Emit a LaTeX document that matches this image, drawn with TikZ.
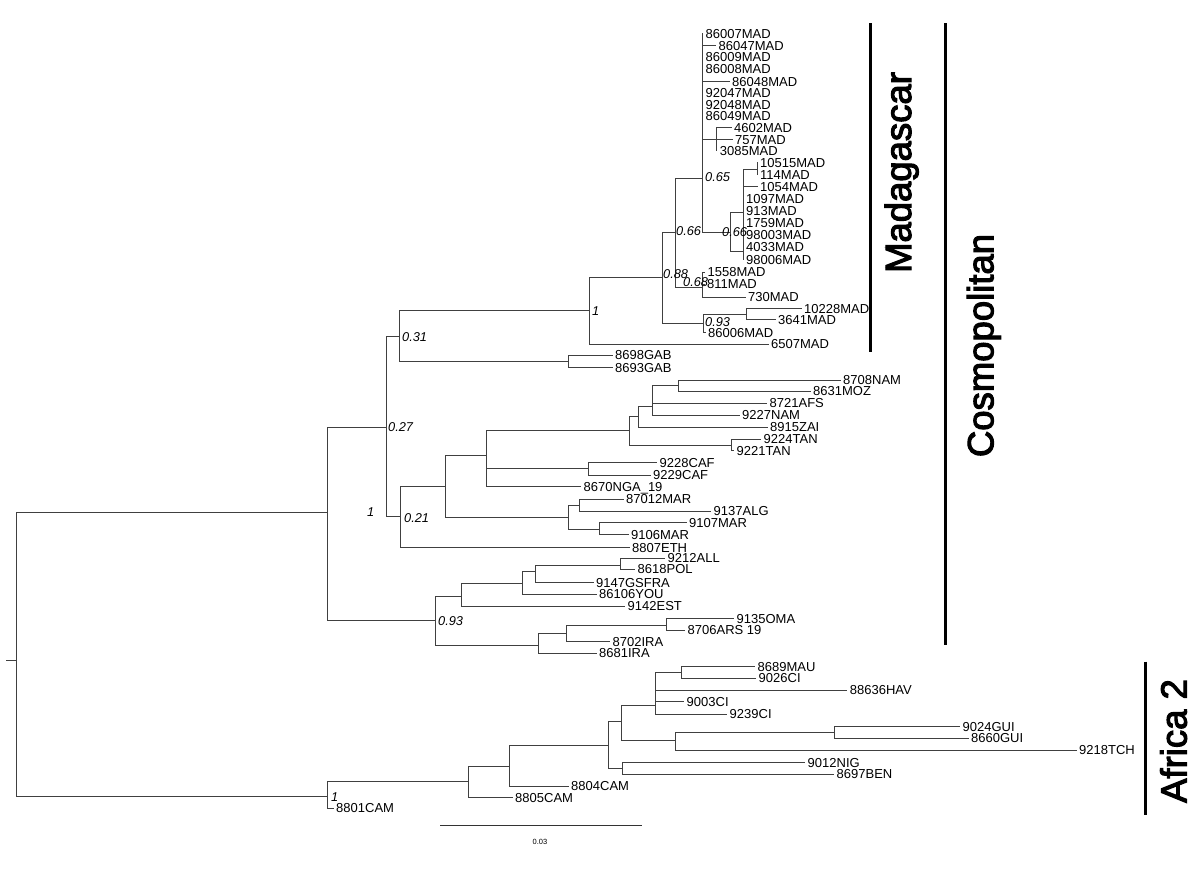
\documentclass[tikz,border=0pt]{standalone}
\usepackage{fontspec}
\setmainfont{Liberation Sans}
\newfontfamily\cladefont[FakeBold=3]{Liberation Sans}
\newcommand{\tnode}[4]{\coordinate (#2) at (#3,#4); \draw[br] (#1 |- #2) -- (#2);}
\newcommand{\tleaf}[5]{\node[leaf] (#2) at (#3,#4) {#5}; \draw[br] (#1 |- #2.west) -- (#2.west);}
\newcommand{\vsp}[3]{\draw[br] (#1 |- #2) -- (#1 |- #3);}
\begin{document}
\begin{tikzpicture}[x=1pt,y=-1pt,
  br/.style={draw=black!75, line width=1pt, line cap=rect},
  leaf/.style={anchor=west, inner xsep=3pt, inner ysep=0pt, font=\fontsize{13}{14}\selectfont, text height=9.3pt, text depth=0pt},
  supp/.style={anchor=west, inner sep=0pt, font=\fontsize{12.8}{14}\selectfont\itshape, text height=9.2pt, text depth=0pt},
  clade/.style={rotate=90, anchor=base, inner sep=0pt, font=\cladefont\fontsize{36.5}{40}\selectfont},
  cbar/.style={draw=black, line width=2.8pt},
]
\useasboundingbox (0,0) rectangle (1200,872);
\fill[white] (0,0) rectangle (1200,872);
% root
\coordinate (Rt) at (16,660);
\coordinate (Rs) at (6,660);
\draw[br] (Rs) -- (Rt);
\tnode{Rt}{N}{327.5}{512}
\tnode{Rt}{A}{327.5}{796}
% cosmopolitan
\tnode{N}{T}{386}{427}
\tnode{N}{V}{435}{620}
\tnode{T}{S}{399}{336}
\tnode{T}{U}{400.7}{516.5}
\tnode{S}{M}{589}{310.5}
\tnode{S}{GB}{568}{361}
\tleaf{GB}{l8698}{612}{355}{8698GAB}
\tleaf{GB}{l8693}{612}{367.5}{8693GAB}
\tnode{M}{O}{662}{277}
\tleaf{M}{l6507}{768}{344}{6507MAD}
\tnode{O}{D}{675}{232}
\tnode{O}{MB}{703}{323}
\tnode{MB}{I}{746}{314}
\tleaf{MB}{l86006}{705}{332.5}{86006MAD}
\tleaf{I}{l10228}{801}{308.5}{10228MAD}
\tleaf{I}{l3641}{775}{319.5}{3641MAD}
\tnode{D}{C}{702.5}{179}
\tnode{D}{F}{702.5}{287}
\tleaf{F}{l1558}{704.5}{272}{1558MAD}
\tleaf{F}{l811}{704}{284}{811MAD}
\tleaf{F}{l730}{745}{297}{730MAD}
\tleaf{C}{l86007}{702.5}{34}{86007MAD}
\tleaf{C}{l86047}{715.5}{45.5}{86047MAD}
\tleaf{C}{l86009}{702.5}{57}{86009MAD}
\tleaf{C}{l86008}{702.5}{69}{86008MAD}
\tleaf{C}{l86048}{729}{81.5}{86048MAD}
\tleaf{C}{l92047}{702.5}{93}{92047MAD}
\tleaf{C}{l92048}{702.5}{104.5}{92048MAD}
\tleaf{C}{l86049}{702.5}{116}{86049MAD}
\tnode{C}{G}{716.7}{140}
\tleaf{G}{l4602}{731}{128}{4602MAD}
\tleaf{G}{l757}{732}{139.5}{757MAD}
\tleaf{G}{l3085}{716.7}{151}{3085MAD}
\tnode{C}{E}{730}{232}
\tnode{E}{H1}{743}{212}
\tnode{E}{H2}{743}{251}
\tnode{H1}{NA}{757}{170}
\tleaf{NA}{l10515}{757}{163}{10515MAD}
\tleaf{NA}{l114}{757}{175}{114MAD}
\tleaf{H1}{l1054}{757}{186.5}{1054MAD}
\tleaf{H1}{l1097}{743}{198.5}{1097MAD}
\tleaf{H2}{l913}{743}{211}{913MAD}
\tleaf{H2}{l1759}{743}{223}{1759MAD}
\tleaf{H2}{l98003}{743}{235}{98003MAD}
\tleaf{H2}{l4033}{743}{247}{4033MAD}
\tleaf{H2}{l98006}{743}{259.5}{98006MAD}
% U subtree
\tnode{U}{J}{445}{486.5}
\tleaf{U}{l8807}{629}{547.5}{8807ETH}
\tnode{J}{L}{486.7}{455}
\tnode{J}{MR}{568.3}{517.3}
\tnode{L}{K4}{629.3}{430.7}
\tnode{L}{CF}{588.3}{468.5}
\tleaf{L}{l8670}{580.5}{486.7}{8670NGA\_19}
\tnode{K4}{K3}{638.3}{416.7}
\tnode{K4}{TN}{731.7}{445}
\tnode{K3}{K2}{652.7}{406}
\tleaf{K3}{l8915}{767}{427.3}{8915ZAI}
\tnode{K2}{K1}{678.3}{385.7}
\tleaf{K2}{l8721}{766.5}{403.3}{8721AFS}
\tleaf{K2}{l9227}{739}{415}{9227NAM}
\tleaf{K1}{l8708}{840}{380}{8708NAM}
\tleaf{K1}{l8631}{810}{391}{8631MOZ}
\tleaf{TN}{l9224}{760.5}{439}{9224TAN}
\tleaf{TN}{l9221}{733.5}{450.7}{9221TAN}
\tleaf{CF}{l9228}{656.5}{462.7}{9228CAF}
\tleaf{CF}{l9229}{650}{475}{9229CAF}
\tnode{MR}{M2}{579}{505}
\tnode{MR}{M3}{599}{529}
\tleaf{M2}{l87012}{623}{499.3}{87012MAR}
\tleaf{M2}{l9137}{710.5}{511}{9137ALG}
\tleaf{M3}{l9107}{686}{522.7}{9107MAR}
\tleaf{M3}{l9106}{628}{534.5}{9106MAR}
% V subtree
\tnode{V}{P1}{461}{596.5}
\tnode{V}{Q1}{538.3}{645}
\tnode{P1}{P2}{522.7}{583.3}
\tleaf{P1}{l9142}{624.5}{606}{9142EST}
\tnode{P2}{P3}{535}{571.7}
\tleaf{P2}{l86106}{596}{594}{86106YOU}
\tnode{P3}{P4}{620.7}{565}
\tleaf{P3}{l9147}{593}{582.7}{9147GSFRA}
\tleaf{P4}{l9212}{664.5}{558.3}{9212ALL}
\tleaf{P4}{l8618}{634.5}{569.3}{8618POL}
\tnode{Q1}{Q2}{566}{633.3}
\tleaf{Q1}{l8681}{596}{653.3}{8681IRA}
\tnode{Q2}{Q3}{666.7}{625}
\tleaf{Q2}{l8702}{609.5}{641.7}{8702IRA}
\tleaf{Q3}{l9135}{733.5}{618.5}{9135OMA}
\tleaf{Q3}{l8706}{684.5}{630}{8706ARS 19}
% Africa 2
\tnode{A}{R1}{468.3}{781.7}
\tleaf{A}{l8801}{333}{808}{8801CAM}
\tnode{R1}{R2}{509.3}{766}
\tleaf{R1}{l8805}{512}{797.7}{8805CAM}
\tnode{R2}{R3}{608.3}{745.7}
\tleaf{R2}{l8804}{568}{786}{8804CAM}
\tnode{R3}{R4}{621.7}{721.7}
\tnode{R3}{R5}{622.7}{768.3}
\tnode{R4}{R6}{655}{705}
\tnode{R4}{R7}{675}{740.7}
\tnode{R6}{R9}{681.7}{672.7}
\tleaf{R6}{l88636}{846.7}{690}{88636HAV}
\tleaf{R6}{l9003}{683.5}{701.7}{9003CI}
\tleaf{R6}{l9239}{726.5}{714}{9239CI}
\tleaf{R9}{l8689}{754.5}{666.7}{8689MAU}
\tleaf{R9}{l9026}{755.5}{678.3}{9026CI}
\tnode{R7}{GU}{834}{732.7}
\tleaf{R7}{l9218}{1076}{750}{9218TCH}
\tleaf{GU}{l9024}{959.5}{726.7}{9024GUI}
\tleaf{GU}{l8660}{968}{738.3}{8660GUI}
\tleaf{R5}{l9012}{804.5}{762.7}{9012NIG}
\tleaf{R5}{l8697}{833.5}{774}{8697BEN}
% vertical spans of the internal nodes
\vsp{Rt}{N}{A}
\vsp{N}{T}{V}
\vsp{T}{S}{U}
\vsp{S}{M}{GB}
\vsp{GB}{l8698.west}{l8693.west}
\vsp{M}{O}{l6507.west}
\vsp{O}{D}{MB}
\vsp{MB}{I}{l86006.west}
\vsp{I}{l10228.west}{l3641.west}
\vsp{D}{C}{F}
\vsp{F}{l1558.west}{l730.west}
\vsp{C}{l86007.west}{E}
\vsp{G}{l4602.west}{l3085.west}
\vsp{E}{H1}{H2}
\vsp{H1}{NA}{H1}
\vsp{H2}{l913.west}{l98006.west}
\vsp{NA}{l10515.west}{l114.west}
\vsp{U}{J}{l8807.west}
\vsp{J}{L}{MR}
\vsp{L}{K4}{l8670.west}
\vsp{K4}{K3}{TN}
\vsp{K3}{K2}{l8915.west}
\vsp{K2}{K1}{l9227.west}
\vsp{K1}{l8708.west}{l8631.west}
\vsp{TN}{l9224.west}{l9221.west}
\vsp{CF}{l9228.west}{l9229.west}
\vsp{MR}{M2}{M3}
\vsp{M2}{l87012.west}{l9137.west}
\vsp{M3}{l9107.west}{l9106.west}
\vsp{V}{P1}{Q1}
\vsp{P1}{P2}{l9142.west}
\vsp{P2}{P3}{l86106.west}
\vsp{P3}{P4}{l9147.west}
\vsp{P4}{l9212.west}{l8618.west}
\vsp{Q1}{Q2}{l8681.west}
\vsp{Q2}{Q3}{l8702.west}
\vsp{Q3}{l9135.west}{l8706.west}
\vsp{A}{R1}{l8801.west}
\vsp{R1}{R2}{l8805.west}
\vsp{R2}{R3}{l8804.west}
\vsp{R3}{R4}{R5}
\vsp{R4}{R6}{R7}
\vsp{R6}{R9}{l9239.west}
\vsp{R9}{l8689.west}{l9026.west}
\vsp{R7}{GU}{l9218.west}
\vsp{GU}{l9024.west}{l8660.west}
\vsp{R5}{l9012.west}{l8697.west}
% support values
\node[supp] (s1) at (705,176.5) {0.65};
\node[supp] (s2) at (676,231) {0.66};
\node[supp] (s3) at (722,231.5) {0.66};
\node[supp] (s4) at (663,274) {0.88};
\node[supp] (s5) at (683,282) {0.68};
\node[supp] (s6) at (592,311) {1};
\node[supp] (s7) at (705,322) {0.93};
\node[supp] (s8) at (402,337) {0.31};
\node[supp] (s9) at (388,427) {0.27};
\node[supp] (s10) at (404,518) {0.21};
\node[supp] (s11) at (367,512) {1};
\node[supp] (s12) at (438,620.5) {0.93};
\node[supp] (s13) at (331,797) {1};
% scale bar
\coordinate (sb1) at (440,825);
\coordinate (sb2) at (641.7,825);
\draw[draw=black!80, line width=0.9pt] (sb1) -- (sb2);
\node[font=\fontsize{7.5}{9}\selectfont, inner sep=0pt] (sbl) at (540,841.5) {0.03};
% clade bars
\coordinate (mb1) at (870.7,23.3);
\coordinate (mb2) at (870.7,351.7);
\draw[cbar] (mb1) -- (mb2);
\node[clade] (madl) at (911,172.5) {Madagascar};
\coordinate (cb1) at (945.5,23.3);
\coordinate (cb2) at (945.5,645);
\draw[cbar] (cb1) -- (cb2);
\node[clade] (cosl) at (993.3,345.5) {Cosmopolitan};
\coordinate (ab1) at (1145.7,661.7);
\coordinate (ab2) at (1145.7,815);
\draw[cbar] (ab1) -- (ab2);
\node[clade] (afl) at (1186.6,741) {Africa 2};
\end{tikzpicture}
\end{document}
